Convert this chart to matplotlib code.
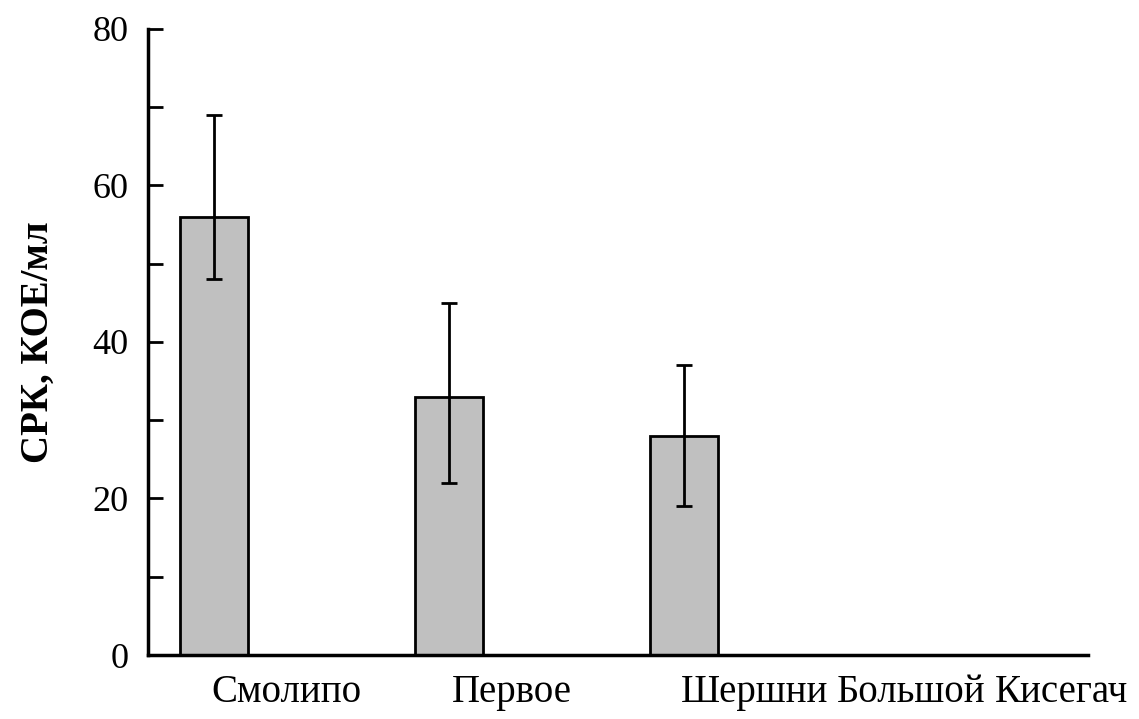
import numpy as np
import matplotlib.pyplot as plt
from matplotlib.ticker import MultipleLocator

# data
sites = ['Смолипо', 'Первое', 'Шершни', 'Большой', 'Кисегач']
means = [56, 33, 28]
upper = [69, 45, 37]
lower = [48, 22, 19]

plt.rcParams['font.family'] = ['Liberation Serif', 'DejaVu Serif']

fig = plt.figure(figsize=(11.39, 7.19), dpi=100)
ax = fig.add_axes([0.130, 0.089, 0.825, 0.871])

x = np.arange(len(means))
m = np.array(means)
yerr = [m - np.array(lower), np.array(upper) - m]
ax.bar(x, m, width=0.29, color='#c0c0c0', edgecolor='black', linewidth=2)
ax.errorbar(x, m, yerr=yerr, fmt='none', ecolor='black', elinewidth=2,
            capsize=5.5, capthick=2)

ax.set_xlim(-0.28, 3.72)
ax.set_ylim(0, 80)
ax.yaxis.set_major_locator(MultipleLocator(20))
ax.yaxis.set_minor_locator(MultipleLocator(10))
ax.tick_params(axis='y', which='both', direction='in', length=11, width=2,
               labelsize=26, pad=14)

# labels are shifted right of the bars in the original
label_pos = [0.31, 1.27, 2.30, 2.97, 3.61]
ax.set_xticks(label_pos)
ax.set_xticklabels(sites, fontsize=28)
ax.tick_params(axis='x', length=0, pad=14)

ax.set_ylabel('СРК, КОЕ/мл', fontsize=28, fontweight='bold', labelpad=26)

for s in ['top', 'right']:
    ax.spines[s].set_visible(False)
for s in ['left', 'bottom']:
    ax.spines[s].set_linewidth(2.5)

fig.savefig('out.png', dpi=100)
